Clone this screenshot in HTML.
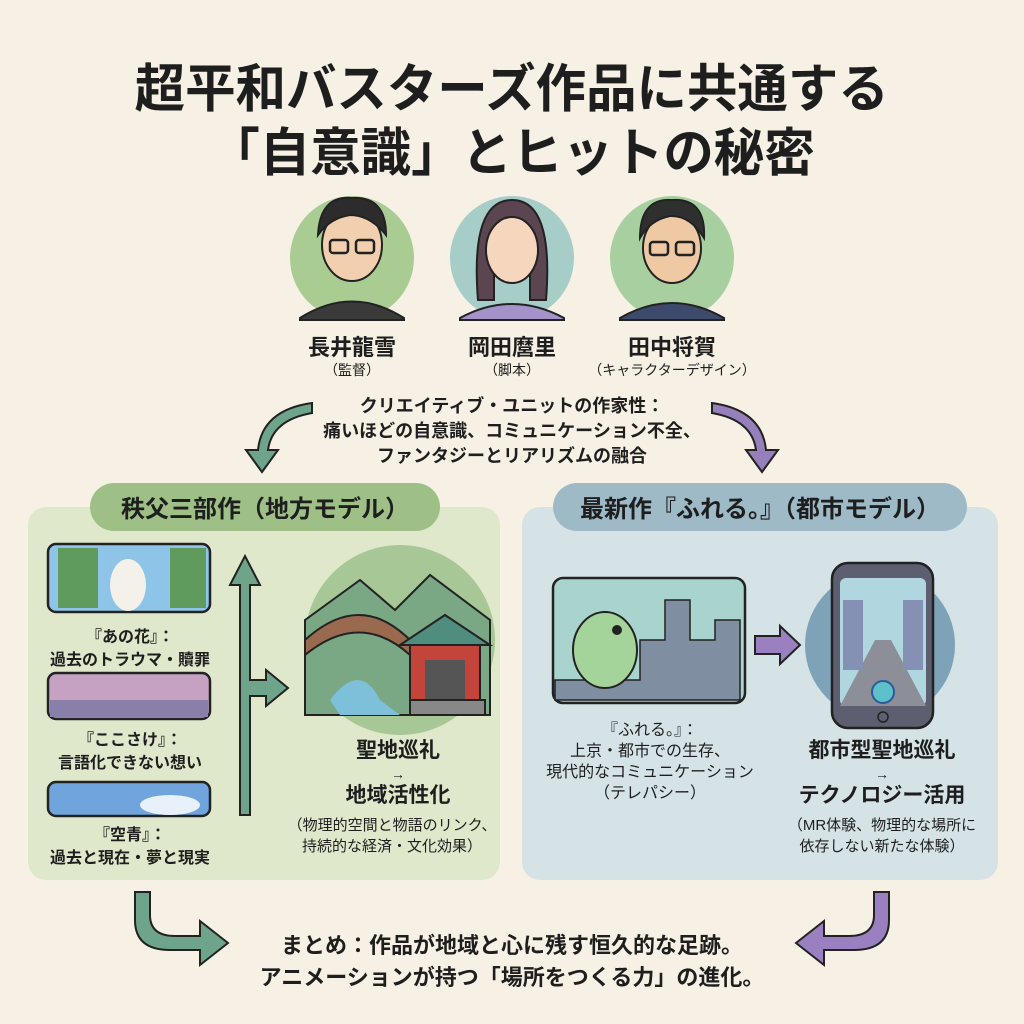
<!DOCTYPE html>
<html><head><meta charset="utf-8"><style>
body{margin:0;width:1024px;height:1024px;background:#f6f1e4;position:relative;overflow:hidden;font-family:"Liberation Sans","Noto Sans CJK JP",sans-serif;color:#1e1e1e}
.t{position:absolute;left:0;width:1024px;text-align:center;font-weight:bold;white-space:nowrap}
.c{position:absolute;text-align:center;white-space:nowrap;transform:translateX(-50%)}
.sx{display:inline-block;transform:scaleX(.97)}
</style></head><body>
<svg width="1024" height="1024" style="position:absolute;left:0;top:0">
<rect x="28" y="507" width="472" height="373" rx="18" fill="#dfe8cb"/>
<rect x="522" y="507" width="476" height="373" rx="18" fill="#d5e3e7"/>
<rect x="90" y="483" width="350" height="48" rx="24" fill="#9ebf86"/>
<rect x="553" y="483" width="414" height="48" rx="24" fill="#9dbac6"/>
<circle cx="352" cy="258" r="62" fill="#a8cc92"/>
<circle cx="512" cy="258" r="62" fill="#a6cdc8"/>
<circle cx="672" cy="258" r="62" fill="#a8cf9f"/>
<g stroke="#222" stroke-width="2">
<path d="M300 318 Q352 285 404 318 L404 320 L300 320Z" fill="#3a3a3a"/>
<ellipse cx="352" cy="245" rx="30" ry="36" fill="#f2cfae"/>
<path d="M318 235 Q320 195 352 198 Q386 196 386 235 Q370 215 350 215 Q330 218 318 235Z" fill="#2c2c2c"/>
<path d="M460 318 Q512 290 564 318 L564 320 L460 320Z" fill="#a493c9"/>
<path d="M478 300 Q470 200 512 200 Q554 200 546 300 L530 300 L530 230 Q512 215 494 230 L494 300Z" fill="#5b4550"/>
<ellipse cx="512" cy="250" rx="26" ry="33" fill="#f6d7bd"/>
<path d="M620 318 Q672 288 724 318 L724 320 L620 320Z" fill="#3d4a6b"/>
<ellipse cx="672" cy="248" rx="29" ry="35" fill="#eec9a3"/>
<path d="M640 238 Q640 198 672 200 Q706 198 704 238 Q690 215 670 216 Q650 220 640 238Z" fill="#2f2f2f"/>
</g>
<g fill="none" stroke="#222" stroke-width="2.5">
<rect x="330" y="240" width="18" height="13" rx="3"/><rect x="356" y="240" width="18" height="13" rx="3"/>
<rect x="650" y="242" width="18" height="13" rx="3"/><rect x="676" y="242" width="18" height="13" rx="3"/>
</g>
<path d="M312 403 Q262 410 258 450 L246 450 L262 472 L278 450 L268 450 Q272 420 312 413Z" fill="#6ea58a" stroke="#222" stroke-width="2"/>
<path d="M712 403 Q762 410 766 450 L778 450 L762 472 L746 450 L756 450 Q752 420 712 413Z" fill="#9580bb" stroke="#222" stroke-width="2"/>
<rect x="48" y="544" width="162" height="68" rx="8" fill="#8ec4e8" stroke="#222" stroke-width="2.5"/>
<rect x="58" y="548" width="40" height="60" fill="#5f9b5c"/><rect x="170" y="548" width="36" height="60" fill="#5f9b5c"/>
<ellipse cx="128" cy="585" rx="18" ry="26" fill="#f3f1ea"/>
<rect x="48" y="673" width="162" height="46" rx="8" fill="#c5a1c2" stroke="#222" stroke-width="2.5"/>
<rect x="50" y="700" width="158" height="17" fill="#8a7fa8"/>
<rect x="48" y="782" width="162" height="34" rx="8" fill="#6fa4dc" stroke="#222" stroke-width="2.5"/>
<ellipse cx="170" cy="805" rx="30" ry="10" fill="#e8f0fa"/>
<path d="M240 815 L240 585 L230 585 L245 556 L260 585 L250 585 L250 680 L266 680 L266 670 L288 688 L266 706 L266 696 L250 696 L250 815Z" fill="#6ea58a" stroke="#222" stroke-width="2"/>
<circle cx="400" cy="640" r="95" fill="#a7c797"/>
<path d="M305 620 L360 580 L395 610 L430 575 L490 620 L490 715 L305 715Z" fill="#7aa784" stroke="#222" stroke-width="2"/>
<path d="M330 700 Q360 660 380 700 L400 715 L340 715Z" fill="#7ec0d9"/>
<path d="M305 640 Q360 590 410 640 L410 655 Q360 610 305 655Z" fill="#9a6a4e" stroke="#222" stroke-width="2"/>
<path d="M400 645 L445 615 L490 645Z" fill="#4f8d7f" stroke="#222" stroke-width="2"/>
<rect x="410" y="645" width="70" height="55" fill="#c2443a" stroke="#222" stroke-width="2"/>
<rect x="425" y="660" width="40" height="40" fill="#555"/>
<rect x="410" y="700" width="75" height="15" fill="#888" stroke="#222" stroke-width="2"/>
<rect x="553" y="578" width="192" height="125" rx="10" fill="#a8d4cd" stroke="#222" stroke-width="2.5"/>
<path d="M555 680 L640 680 L640 640 L665 640 L665 600 L690 600 L690 640 L715 640 L715 620 L740 620 L740 700 L555 700Z" fill="#7f8ea0" stroke="#222" stroke-width="1.5"/>
<ellipse cx="605" cy="650" rx="32" ry="38" fill="#a4d49a" stroke="#222" stroke-width="2"/>
<circle cx="617" cy="630" r="5" fill="#222"/>
<path d="M755 636 L780 636 L780 626 L800 645 L780 664 L780 654 L755 654Z" fill="#9a80c0" stroke="#222" stroke-width="2"/>
<circle cx="880" cy="645" r="75" fill="#7ea3b8"/>
<rect x="832" y="563" width="101" height="165" rx="16" fill="#5d5f70" stroke="#222" stroke-width="2.5"/>
<rect x="840" y="578" width="86" height="128" rx="6" fill="#b0d6df"/>
<path d="M840 706 L875 640 L891 640 L926 706Z" fill="#8c8f98"/>
<rect x="843" y="600" width="20" height="70" fill="#8590b5"/><rect x="903" y="600" width="20" height="70" fill="#8590b5"/>
<circle cx="883" cy="692" r="11" fill="#5ec0c8" stroke="#2a5b9c" stroke-width="2"/>
<circle cx="883" cy="717" r="5" fill="none" stroke="#222" stroke-width="1.5"/>
<path d="M135 892 L135 920 Q135 950 170 950 L200 950 L200 965 L228 943 L200 921 L200 936 L175 936 Q150 936 150 915 L150 892Z" fill="#6ea58a" stroke="#222" stroke-width="2"/>
<path d="M889 892 L889 920 Q889 950 854 950 L824 950 L824 965 L796 943 L824 921 L824 936 L849 936 Q874 936 874 915 L874 892Z" fill="#9a80c0" stroke="#222" stroke-width="2"/>
</svg>
<div class="t" style="top:60px;font-size:52px;line-height:60px"><span class="sx">超平和バスターズ作品に共通する</span></div>
<div class="t" style="top:124px;font-size:52px;line-height:60px"><span class="sx">「自意識」とヒットの秘密</span></div>
<div class="c" style="left:352px;top:330px;font-size:22px;font-weight:bold">長井龍雪</div>
<div class="c" style="left:512px;top:330px;font-size:22px;font-weight:bold">岡田麿里</div>
<div class="c" style="left:672px;top:330px;font-size:22px;font-weight:bold">田中将賀</div>
<div class="c" style="left:352px;top:360px;font-size:14px">（監督）</div>
<div class="c" style="left:512px;top:360px;font-size:14px">（脚本）</div>
<div class="c" style="left:672px;top:360px;font-size:14px">（キャラクターデザイン）</div>
<div class="c" style="left:512px;top:394px;font-size:18px;line-height:25px;font-weight:bold">クリエイティブ・ユニットの作家性：<br>痛いほどの自意識、コミュニケーション不全、<br>ファンタジーとリアリズムの融合</div>
<div class="c" style="left:265px;top:489px;font-size:24px;font-weight:bold">秩父三部作（地方モデル）</div>
<div class="c" style="left:760px;top:489px;font-size:24px;font-weight:bold">最新作『ふれる。』（都市モデル）</div>
<div class="c" style="left:130px;top:626px;font-size:16px;line-height:23px;font-weight:bold">『あの花』：<br>過去のトラウマ・贖罪</div>
<div class="c" style="left:130px;top:729px;font-size:16px;line-height:23px;font-weight:bold">『ここさけ』：<br>言語化できない想い</div>
<div class="c" style="left:130px;top:824px;font-size:16px;line-height:23px;font-weight:bold">『空青』：<br>過去と現在・夢と現実</div>
<div class="c" style="left:398px;top:740px;font-size:21px;line-height:22px;font-weight:bold">聖地巡礼<br><span style="font-size:14px">→</span><br>地域活性化</div>
<div class="c" style="left:392px;top:815px;font-size:15px;line-height:21px">（物理的空間と物語のリンク、<br>持続的な経済・文化効果）</div>
<div class="c" style="left:650px;top:720px;font-size:16px;line-height:21px">『ふれる。』：<br>上京・都市での生存、<br>現代的なコミュニケーション<br>（テレパシー）</div>
<div class="c" style="left:882px;top:740px;font-size:21px;line-height:22px;font-weight:bold">都市型聖地巡礼<br><span style="font-size:14px">→</span><br>テクノロジー活用</div>
<div class="c" style="left:882px;top:815px;font-size:15px;line-height:21px">（MR体験、物理的な場所に<br>依存しない新たな体験）</div>
<div class="c" style="left:512px;top:930px;font-size:22px;line-height:32px;font-weight:bold">まとめ：作品が地域と心に残す恒久的な足跡。<br>アニメーションが持つ「場所をつくる力」の進化。</div>
</body></html>
